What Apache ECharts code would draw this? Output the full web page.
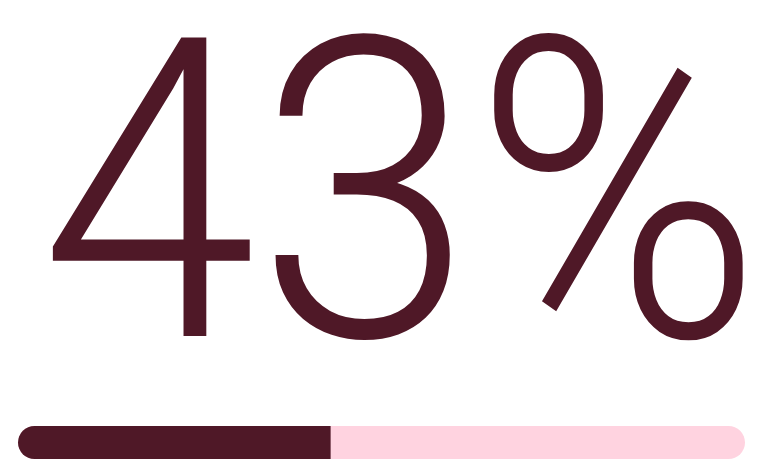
<!DOCTYPE html>
<html><head><meta charset="utf-8">
<script src="https://cdn.jsdelivr.net/npm/echarts@6/dist/echarts.min.js"></script>
<style>html,body{margin:0;padding:0;background:#fff}#c{width:764px;height:460px}</style>
</head><body><div id="c"></div>
<script>
const categories = ['Progress'];
const values = [43];
const maxValue = 100;

const dark = '#4F1827';
const pink = '#FFD3E0';
const chart = echarts.init(document.getElementById('c'), null, {renderer: 'canvas'});
chart.setOption({
  animation: false,
  grid: {left: 18, right: 19, top: 426, height: 33},
  xAxis: {type: 'value', min: 0, max: maxValue, show: false},
  yAxis: {type: 'category', data: categories, show: false},
  series: [{
    type: 'bar',
    data: values,
    barWidth: 33,
    itemStyle: {color: dark, borderRadius: [16.5, 0, 0, 16.5]},
    showBackground: true,
    backgroundStyle: {color: pink, borderRadius: 16.5}
  }],
  graphic: [{
    type: 'text',
    left: 40,
    top: 21,
    scaleX: 0.93,
    style: {
      text: values[0] + '%',
      fill: dark,
      font: '300 420px Roboto'
    }
  }]
});
</script></body></html>
